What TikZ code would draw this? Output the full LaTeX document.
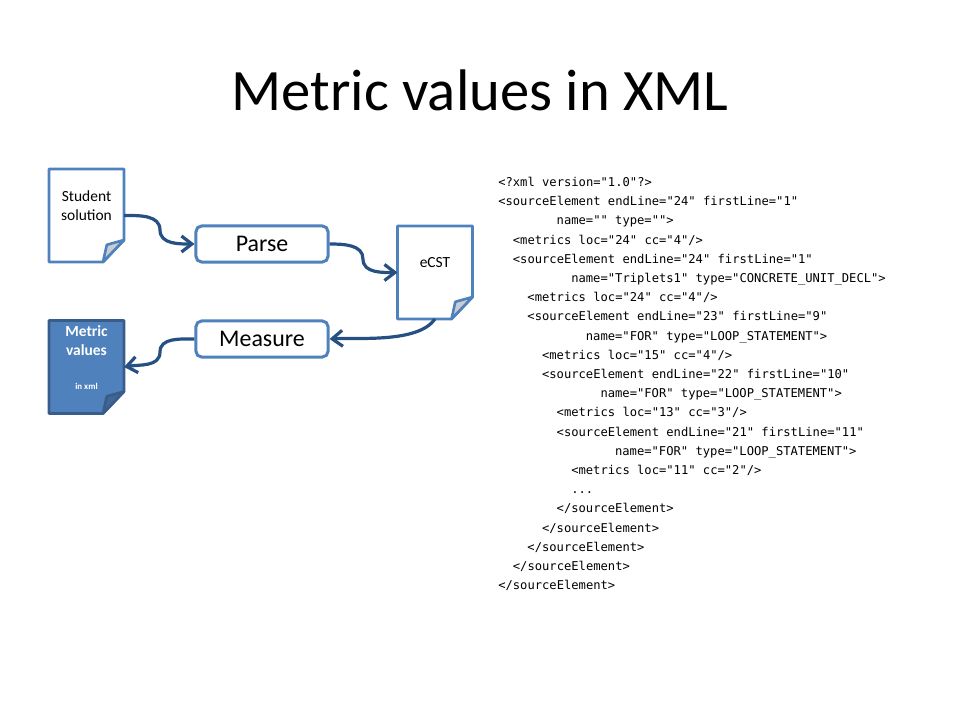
\documentclass[tikz,border=0pt]{standalone}
\usepackage{fontspec}
\setmainfont{Carlito}
\setmonofont{DejaVu Sans Mono}
\usetikzlibrary{arrows.meta,backgrounds}

\definecolor{boxblue}{HTML}{4F81BD}
\definecolor{flowblue}{HTML}{264F82}
\definecolor{pagedark}{HTML}{385D8A}
\definecolor{foldgray}{HTML}{C8CDD3}
\definecolor{folddark}{HTML}{3F6797}

\tikzset{
  x=.025cm, y=.025cm,
  page/.style={inner sep=0pt, outer sep=0pt, minimum width=1.875cm, minimum height=2.325cm,
    align=center, font=\fontsize{11}{13.65}\selectfont},
  process/.style={draw=boxblue, line width=.075cm, rounded corners=.14cm, fill=white,
    minimum width=3.3cm, minimum height=.9cm, font=\fontsize{17}{20}\selectfont},
  flow/.style={draw=flowblue, line width=.08cm, -{Straight Barb[length=2.6mm,width=4mm]}}
}

% page with a turned corner, drawn behind the text of node #1
\newcommand{\foldpage}[4]{
  \begin{pgfonlayer}{background}
    \draw[draw=#3, fill=#2, line width=.07cm, line join=round]
      (#1.north west) -- (#1.north east) -- ([yshift=.55cm]#1.south east)
      -- ([xshift=-.525cm]#1.south east) -- (#1.south west) -- cycle;
    \draw[draw=#3, fill=#4, line width=.065cm, line join=round]
      ([xshift=-.525cm]#1.south east) -- ([xshift=-.43cm,yshift=.43cm]#1.south east)
      -- ([yshift=.55cm]#1.south east) -- cycle;
  \end{pgfonlayer}
}
\newcommand{\xmlind}[1]{\hspace*{#1\dimexpr .1825cm\relax}}

\begin{document}
\begin{tikzpicture}
  \useasboundingbox (0,0) rectangle (960,-720);

  \node (title) at (480,-90) {\fontsize{41.7}{50}\selectfont Metric values in XML};

  \node[page] (student) at (86.5,-215.5) {Student\\solution\\~};
  \node[page] (ecst) at (435,-272.5) {eCST\\~};
  \node[page, text=white, font=\bfseries\fontsize{11}{13.65}\selectfont] (metric) at (86.5,-367)
    {Metric\\values\\[10.4pt]{\fontsize{6.3}{7}\selectfont in xml}\\~};
  \foldpage{student}{white}{boxblue}{foldgray}
  \foldpage{ecst}{white}{boxblue}{foldgray}
  \foldpage{metric}{boxblue}{pagedark}{folddark}

  \node[process] (parse) at (262,-244) {Parse};
  \node[process] (measure) at (262,-339) {Measure};

  \coordinate (bend1) at (160,-230);
  \coordinate (bend2) at (363,-259);
  \coordinate (bend3) at (160,-352);

  \draw[flow] (student.east) to[out=0,in=90] (bend1) to[out=-90,in=180] (parse.west);
  \draw[flow] (parse.east) to[out=0,in=90] (bend2) to[out=-90,in=180] (ecst.west);
  \draw[flow] (ecst.south) to[out=-125,in=3,looseness=.7] (measure.east);
  \draw[flow] (measure.west) to[out=180,in=90] (bend3) to[out=-90,in=10] (metric.east);

  \node[anchor=north west, inner sep=0pt, align=left,
        font=\ttfamily\fontsize{8.64}{13.65}\selectfont] (xml) at (498,-177) {%
    <?xml version="1.0"?>\\
    <sourceElement endLine="24" firstLine="1"\\
    \xmlind{8}name="" type="">\\
    \xmlind{2}<metrics loc="24" cc="4"/>\\
    \xmlind{2}<sourceElement endLine="24" firstLine="1"\\
    \xmlind{10}name="Triplets1" type="CONCRETE\_UNIT\_DECL">\\
    \xmlind{4}<metrics loc="24" cc="4"/>\\
    \xmlind{4}<sourceElement endLine="23" firstLine="9"\\
    \xmlind{12}name="FOR" type="LOOP\_STATEMENT">\\
    \xmlind{6}<metrics loc="15" cc="4"/>\\
    \xmlind{6}<sourceElement endLine="22" firstLine="10"\\
    \xmlind{14}name="FOR" type="LOOP\_STATEMENT">\\
    \xmlind{8}<metrics loc="13" cc="3"/>\\
    \xmlind{8}<sourceElement endLine="21" firstLine="11"\\
    \xmlind{16}name="FOR" type="LOOP\_STATEMENT">\\
    \xmlind{10}<metrics loc="11" cc="2"/>\\
    \xmlind{10}...\\
    \xmlind{8}</sourceElement>\\
    \xmlind{6}</sourceElement>\\
    \xmlind{4}</sourceElement>\\
    \xmlind{2}</sourceElement>\\
    </sourceElement>};
\end{tikzpicture}
\end{document}
